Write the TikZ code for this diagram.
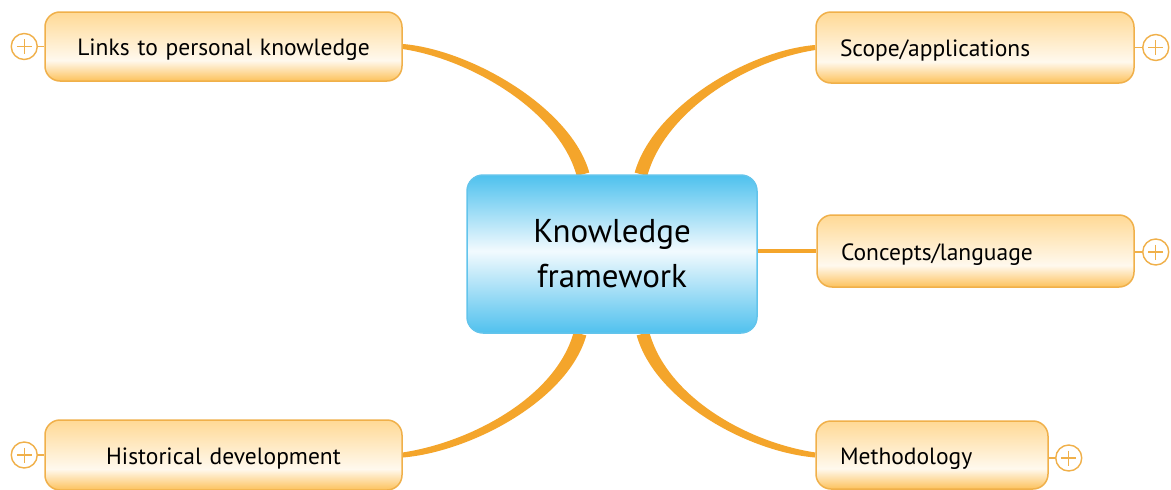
\documentclass[tikz,border=0pt]{standalone}
\usepackage{fontspec}
\setmainfont{PT Sans}
\usetikzlibrary{calc,backgrounds}
\definecolor{linkc}{HTML}{F4A52B}
\definecolor{oborder}{HTML}{F0B04A}
\definecolor{otop}{HTML}{FFD995}
\definecolor{omid}{HTML}{FFF9EE}
\definecolor{obot}{HTML}{FDC25C}
\definecolor{bborder}{HTML}{62C4EC}
\definecolor{btop}{HTML}{4EC1EE}
\definecolor{bmid}{HTML}{F2FAFE}
\definecolor{bbot}{HTML}{50C1EE}
\pgfdeclareverticalshading{oboxshade}{100bp}{color(0bp)=(obot); color(25bp)=(obot); color(40bp)=(omid); color(75bp)=(otop); color(100bp)=(otop)}
\pgfdeclareverticalshading{bboxshade}{100bp}{color(0bp)=(bbot); color(25bp)=(bbot); color(51bp)=(bmid); color(75bp)=(btop); color(100bp)=(btop)}
% #1 thin end, #2 thick end, #3 ctrl offset from thin end, #4 ctrl offset from thick end,
% #5..#8 half-width offsets at thin end, ctrl1, ctrl2, thick end
\newcommand\taperlink[8]{%
  \fill[linkc] ($(#1)+(#5)$) .. controls ($(#1)+(#3)+(#6)$) and ($(#2)+(#4)+(#7)$) .. ($(#2)+(#8)$)
    -- ($(#2)-(#8)$) .. controls ($(#2)+(#4)-(#7)$) and ($(#1)+(#3)-(#6)$) .. ($(#1)-(#5)$) -- cycle;}
\tikzset{
  topic/.style={draw=oborder, line width=1.5pt, rounded corners=15pt, shade, shading=oboxshade,
    font=\fontsize{23.5}{27}\selectfont, text=black, minimum height=#1, inner ysep=0pt,
    text height=18pt, text depth=0pt},
  lefttopic/.style={topic=69pt, text width=309pt, inner xsep=24pt, align=center},
  righttopic/.style={topic=71pt, inner xsep=24pt, align=left},
  central/.style={draw=bborder, line width=1.5pt, rounded corners=16pt, shade, shading=bboxshade,
    font=\fontsize{33}{45}\selectfont, text=black, minimum width=290pt, minimum height=158pt, align=center},
  plusnode/.style={circle, draw=oborder, line width=1.4pt, fill=white, minimum size=26pt, inner sep=0pt,
    path picture={\draw[oborder, line width=1.3pt]
      ($(path picture bounding box.center)+(-7.5,0)$) -- ($(path picture bounding box.center)+(7.5,0)$)
      ($(path picture bounding box.center)+(0,-7.5)$) -- ($(path picture bounding box.center)+(0,7.5)$);}},
  plink/.style={draw=oborder, line width=1.4pt}
}
\begin{document}
\begin{tikzpicture}[x=1pt, y=-1pt]
\useasboundingbox (0,0) rectangle (1171,490);
% central
\node[central] (center) at (612,254) {Knowledge\\framework};
% topics
\node[lefttopic] (links) at (223.5,46.5) {Links to personal knowledge};
\node[lefttopic, minimum height=70pt] (hist) at (223.5,455) {Historical development};
\node[righttopic, text width=270pt] (scope) at (975,47.5) {Scope/applications};
\node[righttopic, text width=269pt, minimum height=72pt] (concepts) at (975.5,251) {Concepts/language};
\node[righttopic, text width=184pt, minimum height=68pt] (method) at (932,455) {Methodology};
% plus buttons
\node[plusnode] (p1) at ($(links.west)+(-20,0)$) {};
\node[plusnode] (p2) at ($(scope.east)+(21,0)$) {};
\node[plusnode] (p3) at ($(concepts.east)+(21,1)$) {};
\node[plusnode] (p4) at ($(method.east)+(20,3)$) {};
\node[plusnode] (p5) at ($(hist.west)+(-20,0)$) {};
\begin{pgfonlayer}{background}
\fill[white] (0,0) rectangle (1171,490);
\draw[plink] (p1) -- (links.west);
\draw[plink] (p2) -- (scope.east);
\draw[plink] (p3) -- (p3 -| concepts.east);
\draw[plink] (p4) -- (p4 -| method.east);
\draw[plink] (p5) -- (hist.west);
\coordinate (tl) at ($(center.north)+(-29,0)$);
\coordinate (tr) at ($(center.north)+(29,0)$);
\coordinate (bl) at ($(center.south)+(-32,0)$);
\coordinate (br) at ($(center.south)+(31,0)$);
\taperlink{links.east}{tl}{68,8}{-18,-65}{-0.3,2.5}{-0.5,4.6}{-6.0,1.6}{-6.3,1.7}
\taperlink{scope.west}{tr}{-68,8}{18,-65}{0.3,2.5}{0.5,4.6}{6.0,1.6}{6.3,1.7}
\taperlink{hist.east}{bl}{68,-8}{-18,65}{-0.3,-2.5}{-0.5,-4.6}{-6.0,-1.6}{-6.3,-1.7}
\taperlink{method.west}{br}{-68,-8}{18,65}{0.3,-2.5}{0.5,-4.6}{6.0,-1.6}{6.3,-1.7}
\draw[linkc, line width=4pt] (center.east |- concepts.west) -- (concepts.west);
\end{pgfonlayer}
\end{tikzpicture}
\end{document}
